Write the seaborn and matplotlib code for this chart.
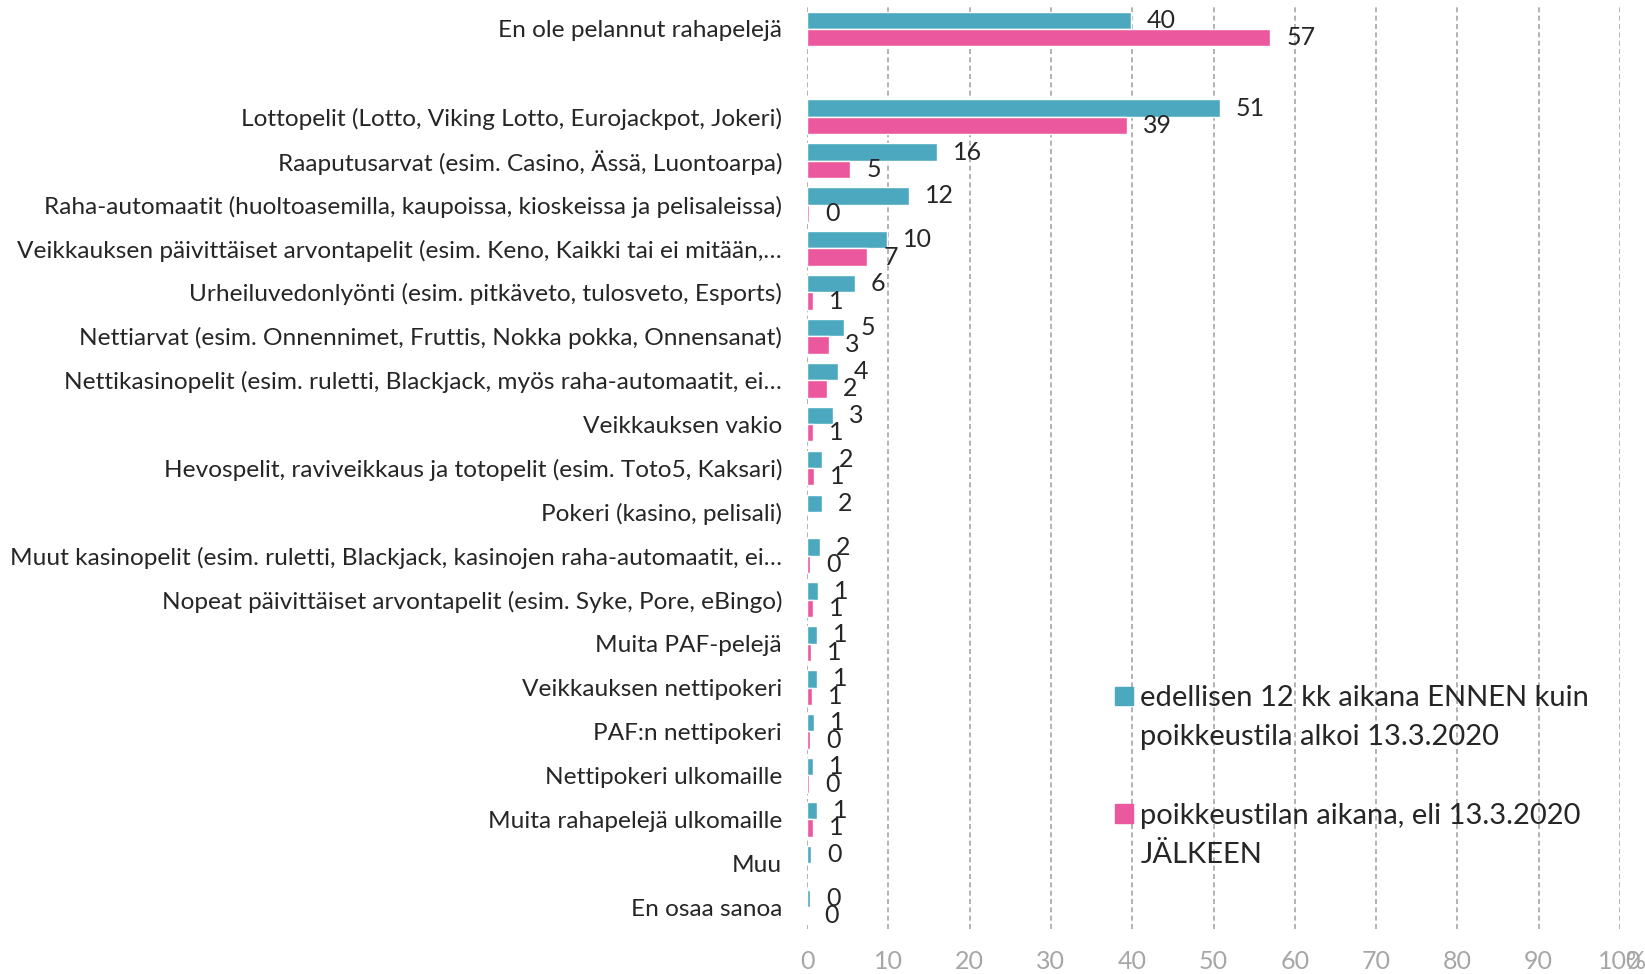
import pandas as pd
import numpy as np
import matplotlib.pyplot as plt
from matplotlib.patches import Patch
import seaborn as sns

sns.set_theme(style="white")
plt.rcParams['font.family'] = ['Lato', 'DejaVu Sans']

# data (% of respondents)
categories = [
    "En ole pelannut rahapelejä",
    "Lottopelit (Lotto, Viking Lotto, Eurojackpot, Jokeri)",
    "Raaputusarvat (esim. Casino, Ässä, Luontoarpa)",
    "Raha-automaatit (huoltoasemilla, kaupoissa, kioskeissa ja pelisaleissa)",
    "Veikkauksen päivittäiset arvontapelit (esim. Keno, Kaikki tai ei mitään,…",
    "Urheiluvedonlyönti (esim. pitkäveto, tulosveto, Esports)",
    "Nettiarvat (esim. Onnennimet, Fruttis, Nokka pokka, Onnensanat)",
    "Nettikasinopelit (esim. ruletti, Blackjack, myös raha-automaatit, ei…",
    "Veikkauksen vakio",
    "Hevospelit, raviveikkaus ja totopelit (esim. Toto5, Kaksari)",
    "Pokeri (kasino, pelisali)",
    "Muut kasinopelit (esim. ruletti, Blackjack, kasinojen raha-automaatit, ei…",
    "Nopeat päivittäiset arvontapelit (esim. Syke, Pore, eBingo)",
    "Muita PAF-pelejä",
    "Veikkauksen nettipokeri",
    "PAF:n nettipokeri",
    "Nettipokeri ulkomaille",
    "Muita rahapelejä ulkomaille",
    "Muu",
    "En osaa sanoa",
]
before = [39.8, 50.8, 16.0, 12.5, 9.8, 5.9, 4.6, 3.8, 3.2, 1.9, 1.8, 1.6, 1.4, 1.2,
          1.2, 0.8, 0.7, 1.2, 0.5, 0.4]
after = [57.0, 39.3, 5.3, 0.3, 7.4, 0.7, 2.7, 2.4, 0.7, 0.9, None, 0.4, 0.7, 0.5,
         0.6, 0.4, 0.3, 0.7, None, 0.1]
before_labels = ["40", "51", "16", "12", "10", "6", "5", "4", "3", "2", "2", "2", "1", "1",
                 "1", "1", "1", "1", "0", "0"]
after_labels = ["57", "39", "5", "0", "7", "1", "3", "2", "1", "1", "", "0", "1", "1",
                "1", "0", "0", "1", "", "0"]

series = ["edellisen 12 kk aikana ENNEN kuin\npoikkeustila alkoi 13.3.2020",
          "poikkeustilan aikana, eli 13.3.2020\nJÄLKEEN"]
colors = ["#4BA8BF", "#EC589E"]

rows = []
for s, vals in zip(series, [before, after]):
    for c, v in zip(categories, vals):
        if v is not None:
            rows.append({"peli": c, "osuus": v, "aika": s})
df = pd.DataFrame(rows)

# blank row after the first category
order = [categories[0], " "] + categories[1:]

fig, ax = plt.subplots(figsize=(16.45, 9.74), dpi=100)
fig.subplots_adjust(left=0.4906, right=0.9848, bottom=0.0462, top=0.9928)

sns.barplot(data=df, y="peli", x="osuus", hue="aika", order=order, hue_order=series,
            palette=colors, saturation=1, width=0.79, errorbar=None, legend=False, ax=ax)

ax.set_xlim(0, 100)
ax.set_ylim(len(order) - 0.5, -0.5)
ax.set_xticks(range(0, 101, 10))
ax.set_xticklabels([str(t) for t in range(0, 101, 10)])
ax.set_xlabel("")
ax.set_ylabel("")
for sp in ax.spines.values():
    sp.set_visible(False)
ax.set_axisbelow(True)
ax.grid(axis="x", color="#A6A6A6", linestyle=(0, (3, 2)), linewidth=1.2)
ax.grid(axis="y", visible=False)
ax.tick_params(axis="y", length=0, pad=18, labelsize=17.6, labelcolor="#262626")
ax.tick_params(axis="x", length=0, pad=15, labelsize=18, labelcolor="#A6A6A6")
ax.annotate("%", xy=(1, 0), xycoords="axes fraction", xytext=(4, -15),
            textcoords="offset points", va="top", ha="left", fontsize=18, color="#A6A6A6")

# data labels
for cont, labs in zip(ax.containers, [before_labels, after_labels]):
    texts = []
    for bar in cont:
        idx = int(round(bar.get_y() + bar.get_height() / 2))
        texts.append(labs[categories.index(order[idx])])
    ax.bar_label(cont, labels=texts, padding=11.5, fontsize=18, color="#262626")

# legend
handles = [Patch(color=colors[0]), Patch(alpha=0), Patch(alpha=0), Patch(color=colors[1]), Patch(alpha=0)]
labels = ["edellisen 12 kk aikana ENNEN kuin", "poikkeustila alkoi 13.3.2020", "",
          "poikkeustilan aikana, eli 13.3.2020", "JÄLKEEN"]
leg = ax.legend(handles, labels, loc="upper left", bbox_to_anchor=(0.365, 0.277), frameon=False,
                fontsize=21, handlelength=0.6, handleheight=0.6, handletextpad=0.25,
                labelspacing=0.45, borderaxespad=0)
for t in leg.get_texts():
    t.set_color("#262626")

plt.savefig("out.png", dpi=100)
